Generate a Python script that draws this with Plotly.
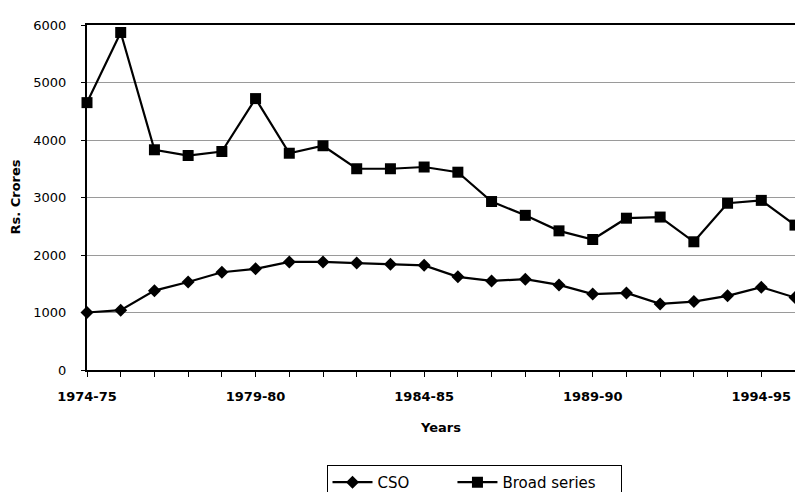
import plotly.graph_objects as go

years = ["1974-75", "1975-76", "1976-77", "1977-78", "1978-79", "1979-80",
         "1980-81", "1981-82", "1982-83", "1983-84", "1984-85", "1985-86",
         "1986-87", "1987-88", "1988-89", "1989-90", "1990-91", "1991-92",
         "1992-93", "1993-94", "1994-95", "1995-96"]
cso = [1000, 1040, 1380, 1530, 1700, 1760, 1880, 1880, 1860, 1840, 1820, 1620,
       1550, 1580, 1480, 1320, 1340, 1150, 1190, 1290, 1440, 1260]
broad = [4650, 5870, 3830, 3730, 3800, 4720, 3770, 3900, 3500, 3500, 3530, 3440,
         2930, 2690, 2420, 2270, 2640, 2660, 2230, 2900, 2950, 2520]
shown_labels = {"1974-75", "1979-80", "1984-85", "1989-90", "1994-95"}
y_ticks = [0, 1000, 2000, 3000, 4000, 5000, 6000]

idx = list(range(len(years)))
ticktext = [y if y in shown_labels else "" for y in years]
NB = "\u00a0"

fig = go.Figure()
fig.add_trace(go.Scatter(
    x=idx, y=cso, name="CSO" + NB * 8, mode="lines+markers",
    line=dict(color="black", width=2.2),
    marker=dict(symbol="diamond", size=10, color="black"),
    cliponaxis=False,
))
fig.add_trace(go.Scatter(
    x=idx, y=broad, name="Broad series" + NB * 4, mode="lines+markers",
    line=dict(color="black", width=2.2),
    marker=dict(symbol="square", size=11, color="black"),
    cliponaxis=False,
))

fig.update_layout(
    width=795, height=492,
    margin=dict(l=87, r=0, t=25, b=122, autoexpand=False),
    paper_bgcolor="white", plot_bgcolor="white",
    font=dict(family="DejaVu Sans", color="black"),
    showlegend=True,
    legend=dict(
        orientation="h", x=(474 - 87) / 708, xanchor="center", y=-0.275, yanchor="top",
        bordercolor="black", borderwidth=1,
        font=dict(family="DejaVu Sans", size=15, color="black"),
        itemwidth=40, tracegroupgap=0,
    ),
    xaxis=dict(
        range=[0, 21], tickmode="array", tickvals=idx, ticktext=ticktext,
        ticks="outside", ticklen=5, tickcolor="black", tickwidth=1,
        showline=True, linecolor="black", linewidth=2, mirror=True,
        showgrid=False, zeroline=False, automargin=False,
        tickfont=dict(family="DejaVu Sans", size=13, color="black", weight="bold"),
        ticklabelstandoff=8,
        title=dict(text="<b>Years</b>", font=dict(size=13, color="black"), standoff=20),
    ),
    yaxis=dict(
        range=[0, 6000], tickmode="array", tickvals=y_ticks,
        ticks="outside", ticklen=4, tickcolor="black",
        showline=True, linecolor="black", linewidth=2,
        showgrid=True, gridcolor="#9a9a9a", gridwidth=1, zeroline=False,
        automargin=False,
        tickfont=dict(family="DejaVu Sans", size=13, color="black"),
        ticklabelstandoff=12,
    ),
    annotations=[dict(
        text="<b>Rs. Crores</b>", textangle=-90, xref="paper", yref="paper",
        x=(15 - 87) / 708, y=0.5, xanchor="center", yanchor="middle",
        showarrow=False, font=dict(family="DejaVu Sans", size=13, color="black"),
    )],
)

fig.write_html("out.html", config={"displayModeBar": False},
               post_script="document.body.style.margin='0';document.body.style.overflow='hidden';")
